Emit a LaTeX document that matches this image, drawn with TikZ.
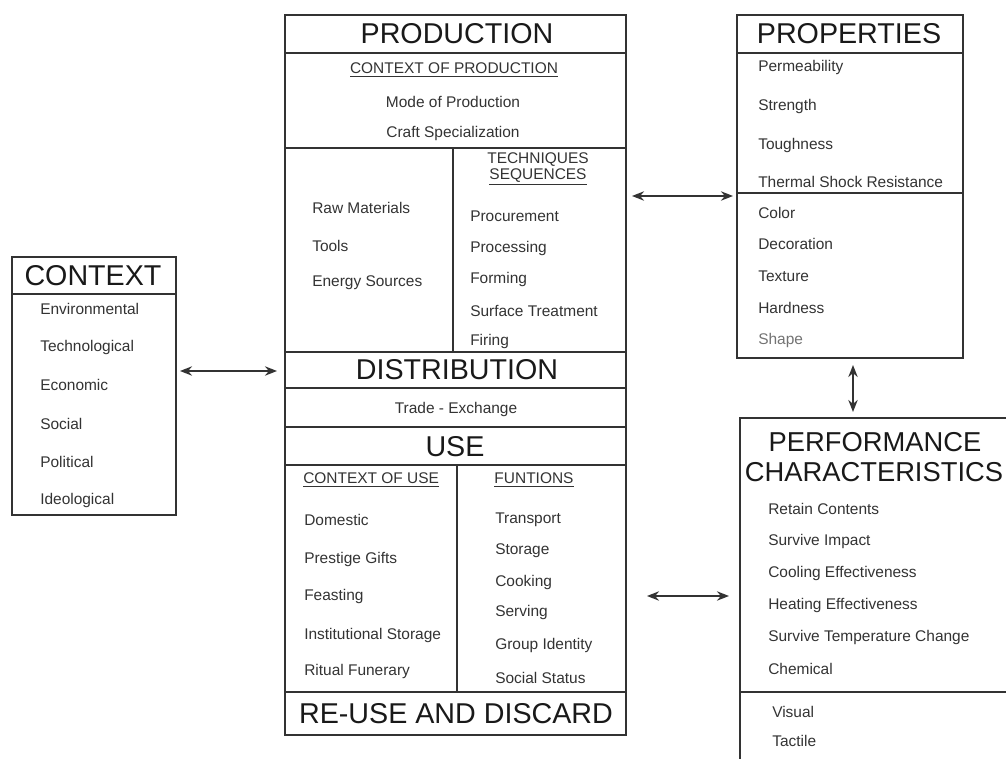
\documentclass[tikz,border=0pt]{standalone}
\usepackage{fontspec}
\setmainfont{Liberation Sans}
\usetikzlibrary{arrows.meta,positioning}

\tikzset{
  frame/.style={draw=black!80, line width=1.4pt},
  bigtitle/.style={font=\fontsize{21.5}{24}\selectfont, inner sep=0pt, text=black!90},
  item/.style={font=\fontsize{11.6}{13}\selectfont, inner sep=0pt, anchor=west, text=black!80},
  subhead/.style={item, anchor=center},
  link/.style={{Stealth[length=9pt,width=7pt]}-{Stealth[length=9pt,width=7pt]}, line width=1.5pt, draw=black!80}
}

\begin{document}
\begin{tikzpicture}[x=0.75pt,y=-0.75pt]
\useasboundingbox (0,0) rectangle (1006,759);

% centre column
\draw[frame] (285,15) rectangle (626,735);
\draw[frame] (285,53) -- (626,53);
\draw[frame] (285,148) -- (626,148);
\draw[frame] (453,148) -- (453,352);
\draw[frame] (285,352) -- (626,352);
\draw[frame] (285,388) -- (626,388);
\draw[frame] (285,427) -- (626,427);
\draw[frame] (285,465) -- (626,465);
\draw[frame] (457,465) -- (457,692);
\draw[frame] (285,692) -- (626,692);

% properties box
\draw[frame] (737,15) rectangle (963,358);
\draw[frame] (737,53) -- (963,53);
\draw[frame] (737,193) -- (963,193);

% context box
\draw[frame] (12,257) rectangle (176,515);
\draw[frame] (12,294) -- (176,294);

% performance box (runs off the page)
\draw[frame] (740,765) -- (740,418) -- (1012,418);
\draw[frame] (740,692) -- (1012,692);

% production
\node[bigtitle] (production) at (457,34) {PRODUCTION};
\node[subhead] (ctxprod) at (454,70) {\underline{CONTEXT OF PRODUCTION}};
\node[subhead] (mode) at (453,102) {Mode of Production};
\node[subhead] (craft) at (453,134) {Craft Specialization};
\node[subhead] (techniques) at (538,160) {TECHNIQUES};
\node[subhead] (sequences) at (538,177) {\underline{SEQUENCES}};
\node[item] (raw) at (312,208) {Raw Materials};
\node[item] (tools) at (312,246) {Tools};
\node[item] (energy) at (312,283) {Energy Sources};
\node[item] (procure) at (470,216) {Procurement};
\node[item] (process) at (470,249) {Processing};
\node[item] (forming) at (470,280) {Forming};
\node[item] (surface) at (470,311) {Surface Treatment};
\node[item] (firing) at (470,342) {Firing};

% distribution and use
\node[bigtitle] (distribution) at (457,370) {DISTRIBUTION};
\node[subhead] (trade) at (456,409) {Trade - Exchange};
\node[bigtitle] (use) at (455,447) {USE};
\node[item] (ctxuse) at (303,480) {\underline{CONTEXT OF USE}};
\node[subhead] (funtions) at (534,480) {\underline{FUNTIONS}};
\node[item] (domestic) at (304,520) {Domestic};
\node[item] (prestige) at (304,559) {Prestige Gifts};
\node[item] (feasting) at (304,596) {Feasting};
\node[item] (institution) at (304,635) {Institutional Storage};
\node[item] (ritual) at (304,671) {Ritual Funerary};
\node[item] (transport) at (495,520) {Transport};
\node[item] (storage) at (495,551) {Storage};
\node[item] (cooking) at (495,582) {Cooking};
\node[item] (serving) at (495,612) {Serving};
\node[item] (group) at (495,645) {Group Identity};
\node[item] (status) at (495,678) {Social Status};
\node[bigtitle] (reuse) at (456,714) {RE-USE AND DISCARD};

% properties
\node[bigtitle] (properties) at (849,34) {PROPERTIES};
\node[item] (permeab) at (758,68) {Permeability};
\node[item] (strength) at (758,107) {Strength};
\node[item] (tough) at (758,146) {Toughness};
\node[item] (thermal) at (758,182) {Thermal Shock Resistance};
\node[item] (color) at (758,213) {Color};
\node[item] (decor) at (758,244) {Decoration};
\node[item] (texture) at (758,276) {Texture};
\node[item] (hardness) at (758,308) {Hardness};
\node[item, text=black!55] (shape) at (758,340) {Shape};

% context
\node[bigtitle] (context) at (93,276) {CONTEXT};
\node[item] (environ) at (40,309) {Environmental};
\node[item] (techno) at (40,348) {Technological};
\node[item] (economic) at (40,385) {Economic};
\node[item] (social) at (40,424) {Social};
\node[item] (political) at (40,462) {Political};
\node[item] (ideolog) at (40,500) {Ideological};

% performance characteristics
\node[bigtitle, font=\fontsize{20.5}{23}\selectfont] (perform) at (875,442) {PERFORMANCE};
\node[bigtitle, font=\fontsize{20.5}{23}\selectfont] (charact) at (874,472) {CHARACTERISTICS};
\node[item] (retain) at (768,509) {Retain Contents};
\node[item] (impact) at (768,541) {Survive Impact};
\node[item] (cooling) at (768,573) {Cooling Effectiveness};
\node[item] (heating) at (768,605) {Heating Effectiveness};
\node[item] (tempchange) at (768,637) {Survive Temperature Change};
\node[item] (chemical) at (768,669) {Chemical};
\node[item] (visual) at (772,712) {Visual};
\node[item] (tactile) at (772,741) {Tactile};

% arrows
\coordinate (ctxR) at (180,371);
\coordinate (distL) at (277,371);
\coordinate (prodR) at (632,196);
\coordinate (propL) at (733,196);
\coordinate (propB) at (853,365);
\coordinate (perfT) at (853,412);
\coordinate (useR) at (647,596);
\coordinate (perfL) at (729,596);
\draw[link] (ctxR) -- (distL);
\draw[link] (prodR) -- (propL);
\draw[link] (propB) -- (perfT);
\draw[link] (useR) -- (perfL);
\end{tikzpicture}
\end{document}
